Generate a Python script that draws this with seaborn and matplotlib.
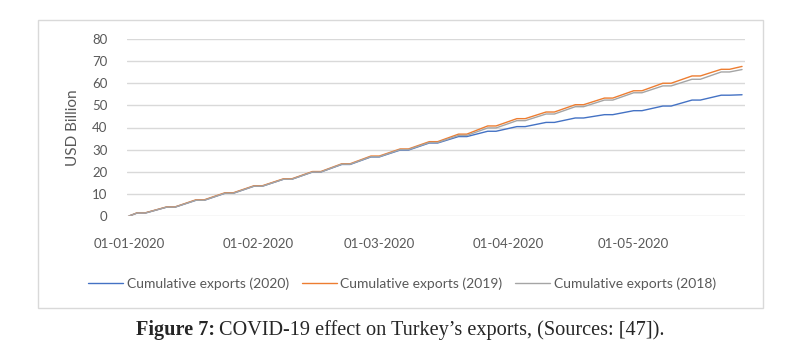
import pandas as pd
import matplotlib
matplotlib.use('Agg')
import matplotlib.pyplot as plt
import matplotlib.dates as mdates
from matplotlib.patches import Rectangle
import seaborn as sns

# Key dates (Fridays / Sundays: weekends are flat in the cumulative series)
dates = ['2020-01-01',
         '2020-01-03', '2020-01-05', '2020-01-10', '2020-01-12',
         '2020-01-17', '2020-01-19', '2020-01-24', '2020-01-26',
         '2020-01-31', '2020-02-02', '2020-02-07', '2020-02-09',
         '2020-02-14', '2020-02-16', '2020-02-21', '2020-02-23',
         '2020-02-28', '2020-03-01', '2020-03-06', '2020-03-08',
         '2020-03-13', '2020-03-15', '2020-03-20', '2020-03-22',
         '2020-03-27', '2020-03-29', '2020-04-03', '2020-04-05',
         '2020-04-10', '2020-04-12', '2020-04-17', '2020-04-19',
         '2020-04-24', '2020-04-26', '2020-05-01', '2020-05-03',
         '2020-05-08', '2020-05-10', '2020-05-15', '2020-05-17',
         '2020-05-22', '2020-05-24', '2020-05-27']

exports_2020 = [0.0,
                1.4, 1.4, 4.0, 4.0,
                7.1, 7.1, 10.3, 10.3,
                13.5, 13.5, 16.6, 16.6,
                19.9, 19.9, 23.3, 23.3,
                26.7, 26.7, 29.8, 29.8,
                33.0, 33.0, 35.9, 35.9,
                38.3, 38.3, 40.4, 40.4,
                42.3, 42.3, 44.3, 44.3,
                45.8, 45.8, 47.6, 47.6,
                49.7, 49.7, 52.4, 52.4,
                54.6, 54.6, 54.8]

exports_2019 = [0.0,
                1.5, 1.5, 4.1, 4.1,
                7.3, 7.3, 10.5, 10.5,
                13.7, 13.7, 16.8, 16.8,
                20.1, 20.1, 23.6, 23.6,
                27.1, 27.1, 30.3, 30.3,
                33.6, 33.6, 37.0, 37.0,
                40.7, 40.7, 44.0, 44.0,
                47.0, 47.0, 50.3, 50.3,
                53.3, 53.3, 56.6, 56.6,
                60.0, 60.0, 63.3, 63.3,
                66.3, 66.3, 67.6]

exports_2018 = [0.0,
                1.4, 1.4, 4.0, 4.0,
                7.1, 7.1, 10.3, 10.3,
                13.5, 13.5, 16.6, 16.6,
                19.9, 19.9, 23.4, 23.4,
                26.8, 26.8, 30.0, 30.0,
                33.2, 33.2, 36.4, 36.4,
                39.8, 39.8, 43.1, 43.1,
                46.1, 46.1, 49.4, 49.4,
                52.4, 52.4, 55.7, 55.7,
                58.8, 58.8, 61.8, 61.8,
                65.1, 65.1, 66.2]

series_names = ['Cumulative exports (2020)', 'Cumulative exports (2019)',
                'Cumulative exports (2018)']
colors = ['#4472C4', '#ED7D31', '#A5A5A5']
tick_dates = ['2020-01-01', '2020-02-01', '2020-03-01', '2020-04-01', '2020-05-01']

#%%
df = pd.DataFrame({'date': pd.to_datetime(dates),
                   series_names[0]: exports_2020,
                   series_names[1]: exports_2019,
                   series_names[2]: exports_2018})
long_df = df.melt(id_vars='date', var_name='series', value_name='value')

sns.set_style('white')
plt.rcParams['font.family'] = ['Lato', 'DejaVu Sans']
grey = '#595959'

fig = plt.figure(figsize=(7.93, 3.53), dpi=100)
W, H = 793, 353
ax = fig.add_axes([127 / W, (H - 216) / H, (745 - 127) / W, (216 - 39) / H])

sns.lineplot(data=long_df, x='date', y='value', hue='series',
             palette=dict(zip(series_names, colors)), linewidth=1.0, ax=ax)

ax.set_ylim(0, 80)
ax.set_yticks(range(0, 81, 10))
ax.set_xlim(pd.Timestamp('2020-01-01') - pd.Timedelta(hours=12),
            pd.Timestamp('2020-05-27') + pd.Timedelta(hours=17))
ax.set_xticks(pd.to_datetime(tick_dates))
ax.xaxis.set_major_formatter(mdates.DateFormatter('%d-%m-%Y'))
ax.grid(axis='y', color='#d9d9d9', linewidth=1)
ax.set_axisbelow(True)
for s in ax.spines.values():
    s.set_visible(False)
ax.tick_params(axis='both', length=0, colors=grey, labelsize=9.5)
ax.tick_params(axis='x', pad=16)
ax.tick_params(axis='y', pad=14)
ax.set_xlabel('')
ax.set_ylabel('USD Billion', color=grey, fontsize=11)
ax.yaxis.set_label_coords((80 - 127) / 618, 0.5)

handles, labels = ax.get_legend_handles_labels()
ax.legend(handles, labels, loc='center', bbox_to_anchor=(402 / W, (H - 284) / H),
          bbox_transform=fig.transFigure, ncol=3, frameon=False, fontsize=10,
          handlelength=2.5, handletextpad=0.25, columnspacing=0.95, labelcolor=grey)

# outer chart border
fig.patches.append(Rectangle((38 / W, (H - 308) / H), (763 - 38) / W, (308 - 20) / H,
                             transform=fig.transFigure, fill=False,
                             edgecolor='#d9d9d9', linewidth=1))

# caption
cap_size = 14.6
t1 = fig.text(136 / W, (H - 330) / H, 'Figure 7:', fontfamily='Liberation Serif',
              fontweight='bold', fontsize=cap_size, va='center', ha='left')
fig.canvas.draw()
bb = t1.get_window_extent()
fig.text(bb.x1 / W + 4 / W, (H - 330) / H,
         'COVID-19 effect on Turkey\u2019s exports, (Sources: [47]).',
         fontfamily='Liberation Serif', fontsize=cap_size, va='center', ha='left')

fig.savefig('out.png', dpi=100)
